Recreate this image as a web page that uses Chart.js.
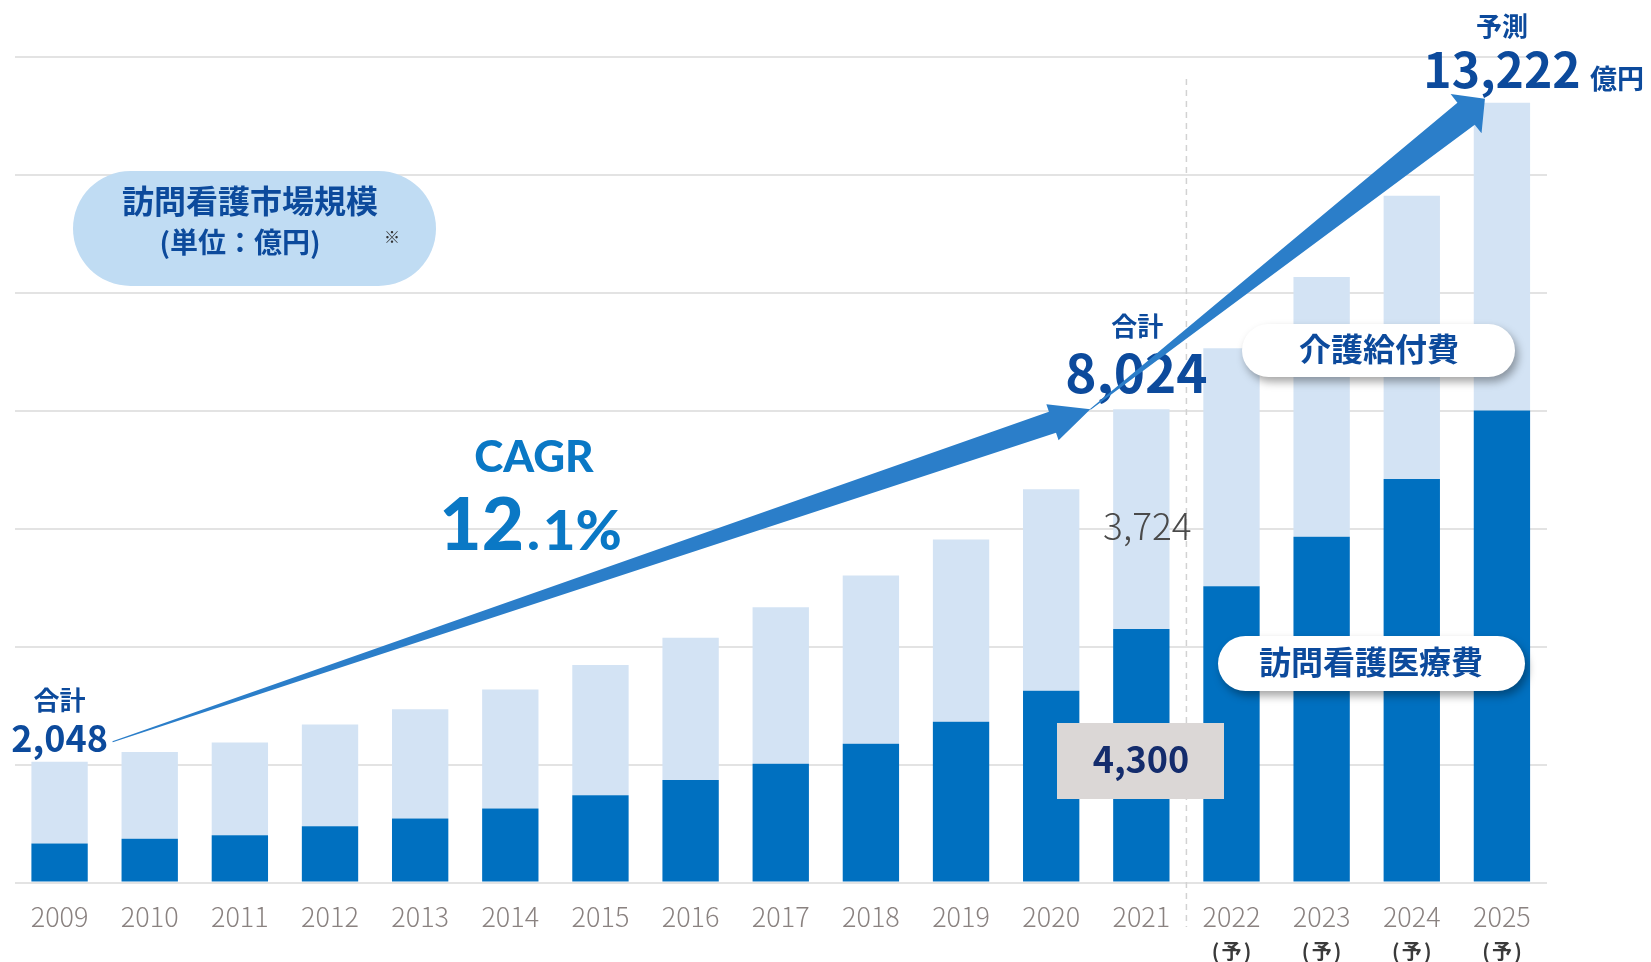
<!DOCTYPE html>
<html lang="ja">
<head>
<meta charset="utf-8">
<title>訪問看護市場規模</title>
<script src="https://cdn.jsdelivr.net/npm/chart.js@4.4.1/dist/chart.umd.min.js"></script>
<style>
  html, body { margin: 0; padding: 0; background: #fff; }
  .wrap { width: 1651px; height: 962px; }
</style>
</head>
<body>
<div class="wrap"><canvas id="marketChart" width="1651" height="962"></canvas></div>
<script>
// 訪問看護市場規模（単位：億円）
const years = ['2009', '2010', '2011', '2012', '2013', '2014', '2015', '2016', '2017',
               '2018', '2019', '2020', '2021', '2022', '2023', '2024', '2025'];
const forecastYears = ['2022', '2023', '2024', '2025'];
const medicalCost = [660, 740, 800, 955, 1085, 1255, 1480, 1740, 2015, 2355, 2725, 3250, 4300, 5025, 5865, 6845, 8005];
const careCost = [1388, 1475, 1575, 1725, 1855, 2020, 2210, 2410, 2655, 2850, 3090, 3420, 3724, 4035, 4405, 4800, 5217];
const yTicks = [0, 2000, 4000, 6000, 8000, 10000, 12000, 14000];

const JP = '"Noto Sans CJK JP", "Noto Sans", sans-serif';
const navyText = '#0c4a9c';
const arrowBlue = '#2b7ec9';

function stackTop(i) {
    return medicalCost[i] + careCost[i];
}

function fmt(v) {
    return v.toLocaleString('en-US');
}

function drawText(ctx, str, x, y, font, color, align, baseline) {
    ctx.font = font;
    ctx.fillStyle = color;
    ctx.textAlign = align || 'center';
    ctx.textBaseline = baseline || 'alphabetic';
    ctx.fillText(str, x, y);
}

function pill(ctx, x, y, w, h, fill, shadow) {
    ctx.save();
    if (shadow) {
        ctx.shadowColor = 'rgba(0, 0, 0, 0.35)';
        ctx.shadowBlur = 9;
        ctx.shadowOffsetX = 3;
        ctx.shadowOffsetY = 5;
    }
    ctx.fillStyle = fill;
    ctx.beginPath();
    ctx.roundRect(x, y, w, h, h / 2);
    ctx.fill();
    ctx.restore();
}

// tapered arrow: thin tail, widening body, triangular head
function taperArrow(ctx, x0, y0, x1, y1, tailW, bodyW, headW, headLen) {
    const len = Math.hypot(x1 - x0, y1 - y0);
    const ux = (x1 - x0) / len, uy = (y1 - y0) / len;
    const nx = -uy, ny = ux;
    const bx = x1 - ux * headLen, by = y1 - uy * headLen;
    ctx.beginPath();
    ctx.moveTo(x0 + nx * tailW / 2, y0 + ny * tailW / 2);
    ctx.lineTo(bx + nx * bodyW / 2, by + ny * bodyW / 2);
    ctx.lineTo(bx + nx * headW / 2, by + ny * headW / 2);
    ctx.lineTo(x1, y1);
    ctx.lineTo(bx - nx * headW / 2, by - ny * headW / 2);
    ctx.lineTo(bx - nx * bodyW / 2, by - ny * bodyW / 2);
    ctx.lineTo(x0 - nx * tailW / 2, y0 - ny * tailW / 2);
    ctx.closePath();
    ctx.fillStyle = arrowBlue;
    ctx.fill();
}

const forecastDivider = {
    id: 'forecastDivider',
    beforeDatasetsDraw(chart) {
        const ctx = chart.ctx;
        const x = chart.scales.x;
        const first = years.indexOf(forecastYears[0]);
        const px = (x.getPixelForValue(first - 1) + x.getPixelForValue(first)) / 2;
        ctx.save();
        ctx.strokeStyle = '#d2d2d2';
        ctx.lineWidth = 1.5;
        ctx.setLineDash([6, 5]);
        ctx.beginPath();
        ctx.moveTo(px, 79);
        ctx.lineTo(px, 927);
        ctx.stroke();
        ctx.restore();
    }
};

const annotations = {
    id: 'annotations',
    afterDatasetsDraw(chart) {
        const ctx = chart.ctx;
        const xs = chart.scales.x;
        const ys = chart.scales.y;
        const last = years.length - 1;
        const actual = years.indexOf('2021');
        ctx.save();

        // title pill
        pill(ctx, 73, 171, 363, 115, '#c0dcf3', false);
        drawText(ctx, '訪問看護市場規模', 250, 201, `bold 32px ${JP}`, navyText, 'center', 'middle');
        drawText(ctx, '(単位：億円)', 240, 242, `bold 28px ${JP}`, navyText, 'center', 'middle');
        drawText(ctx, '※', 392, 237, `16px ${JP}`, '#333', 'center', 'middle');

        // (予) marks under forecast years
        forecastYears.forEach(y => {
            const cx = xs.getPixelForValue(years.indexOf(y));
            drawText(ctx, '(', cx - 16, 951, `bold 20px ${JP}`, '#3a3a3a', 'center', 'middle');
            drawText(ctx, '予', cx, 951, `bold 20px ${JP}`, '#3a3a3a', 'center', 'middle');
            drawText(ctx, ')', cx + 16, 951, `bold 20px ${JP}`, '#3a3a3a', 'center', 'middle');
        });

        // totals
        const x0 = xs.getPixelForValue(0);
        drawText(ctx, '合計', x0, 700, `bold 26px ${JP}`, navyText, 'center', 'middle');
        drawText(ctx, fmt(stackTop(0)), x0, 752, `bold 36px ${JP}`, navyText);

        const xa = xs.getPixelForValue(actual);
        drawText(ctx, '合計', xa - 4, 326, `bold 26px ${JP}`, navyText, 'center', 'middle');
        drawText(ctx, fmt(stackTop(actual)), xa - 5, 393, `bold 53px ${JP}`, navyText);

        const xl = xs.getPixelForValue(last);
        drawText(ctx, '予測', xl, 26, `bold 26px ${JP}`, navyText, 'center', 'middle');
        drawText(ctx, fmt(stackTop(last)), xl, 88, `bold 48px ${JP}`, navyText);
        drawText(ctx, '億円', 1590, 89, `bold 27px ${JP}`, navyText, 'left');

        // CAGR
        const cagrBlue = '#0a78c5';
        drawText(ctx, 'CAGR', 534, 472, `900 44px Lato, ${JP}`, cagrBlue);
        drawText(ctx, '12', 524, 550, `900 73px Lato, ${JP}`, cagrBlue, 'right');
        drawText(ctx, '.', 527, 550, `900 54px Lato, ${JP}`, cagrBlue, 'left');
        drawText(ctx, '1%', 543, 550, `900 56px Lato, ${JP}`, cagrBlue, 'left');

        // 2021 breakdown
        drawText(ctx, fmt(careCost[actual]), xa + 6, 540, `300 37px ${JP}`, '#4a4a4a');
        ctx.fillStyle = '#dbd7d6';
        ctx.fillRect(1057, 723, 167, 76);
        drawText(ctx, fmt(medicalCost[actual]), 1141, 773, `bold 36px ${JP}`, '#142c6c');

        // legend pills
        pill(ctx, 1242, 324, 273, 53, '#ffffff', true);
        drawText(ctx, '介護給付費', 1379, 349, `bold 32px ${JP}`, navyText, 'center', 'middle');
        pill(ctx, 1218, 636, 307, 55, '#ffffff', true);
        drawText(ctx, '訪問看護医療費', 1371, 662, `bold 32px ${JP}`, navyText, 'center', 'middle');

        // growth arrows
        const tail = { x: x0 + 53, y: ys.getPixelForValue(stackTop(0)) - 20 };
        const mid = { x: xa - 51, y: ys.getPixelForValue(stackTop(actual)) };
        const end = { x: xl - 17, y: ys.getPixelForValue(stackTop(last)) - 4 };
        taperArrow(ctx, tail.x, tail.y, mid.x, mid.y, 1, 22, 38, 40);
        taperArrow(ctx, mid.x, mid.y, end.x, end.y, 1, 28, 50, 24);

        ctx.restore();
    }
};

const ctx = document.getElementById('marketChart').getContext('2d');
const marketChart = new Chart(ctx, {
    type: 'bar',
    data: {
        labels: years,
        datasets: [{
            label: '訪問看護医療費',
            data: medicalCost,
            backgroundColor: '#0070c0',
            barPercentage: 0.625,
            categoryPercentage: 1
        }, {
            label: '介護給付費',
            data: careCost,
            backgroundColor: '#d3e3f4',
            barPercentage: 0.625,
            categoryPercentage: 1
        }]
    },
    options: {
        responsive: false,
        animation: false,
        layout: {
            padding: { left: 14.5, right: 104, top: 57, bottom: 0 }
        },
        plugins: {
            legend: { display: false },
            tooltip: { enabled: false }
        },
        scales: {
            x: {
                stacked: true,
                border: { display: false },
                grid: { display: false, drawTicks: false },
                ticks: {
                    color: '#8a8280',
                    font: { family: JP, size: 27, weight: '300' },
                    padding: 18,
                    maxRotation: 0,
                    autoSkip: false
                },
                afterFit: (scale) => { scale.height = 79.5; }
            },
            y: {
                stacked: true,
                min: 0,
                max: 14000,
                border: { display: false },
                grid: { color: '#e3e3e3', lineWidth: 2, drawTicks: false },
                ticks: { display: false, stepSize: 2000 },
                afterBuildTicks: (scale) => { scale.ticks = yTicks.map(v => ({ value: v })); },
                afterFit: (scale) => { scale.width = 0; }
            }
        }
    },
    plugins: [forecastDivider, annotations]
});
</script>
</body>
</html>
